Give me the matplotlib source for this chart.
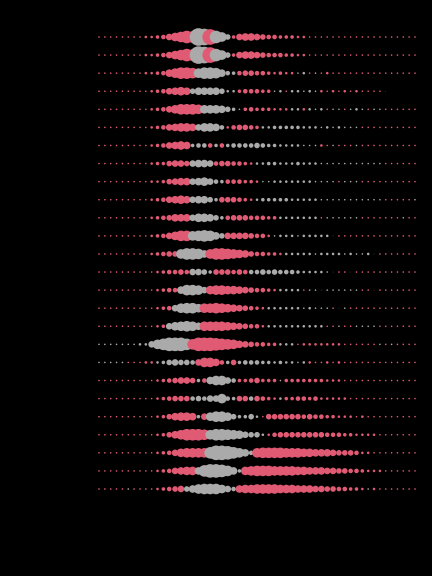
import sys
import matplotlib.pyplot as plt

# one string per row, one letter per dot (55 dots per row, left to right)
# lowercase = pink, uppercase = grey, place in alphabet = dot diameter (px)
# '.' = no dot
rows = [
    "bbbbbbbb" "ccdegikml" "RQpMJF" "dghhgfeedddcc" "bbbbbbbbbbbbbbbbbbb",
    "bbbbbbbb" "ccdegikml" "RQpMJF" "dghhgfeeeddcc" "bbbbbbbbbbbbbbbbbbb",
    "bbbbbbbb" "ccde" "hjllk" "JLLKHED" "effeedcdcc" "BCbBbc" "bbbbbbbbbbbbbbb",
    "bbbbbbbbbcde" "ghih" "FHHHHFCC" "deeedd" "BCbCCBCB" "cbcbcbcb" "bbba" ".....",
    "bbbbbbbbb" "cdegikkkj" "IIIHFDB" "dedddccc" "CCcCBCbBBbBCBbBB" "bbbbbb",
    "bbbbbbbbb" "cdeghiih" "GIIHE" "ceffed" "CCDDDDDCCCBCBCBBB" "bbbbbbbbbb",
    "bbbbbbbbb" "cdeghih" "DEEeDeD" "EEEEFEDDCCCCBBB" "cbBbbbB" "bbbbbbbbbb",
    "bbbbbbbbb" "cddfggf" "GHHG" "effeedc" "CCDDCCCDCCCBBBBBBBBBBB" "bbbbbb",
    "bbbbbbbbb" "ccdfghh" "GHIGED" "eeeddc" "BBCCCCCCCBBBBbBBB" "bbbbbbbbbb",
    "bbbbbbbbb" "cdeghih" "GHHF" "Dfffedc" "CDDDDDCCCCCBBBBBBBBBBB" "bbbbbB",
    "bbbbbbbbb" "cdefhhh" "GIIHFD" "efffeeedd" "CCCCCCC" "bBBBBBB" "bbbbbbbBbb",
    "bbbbbbbbb" "cdegikk" "JKLKHF" "ggggfeec" "BCCCBCCCCCA" "bbbbbbbbbbbbbb",
    "bbbbbbbbb" "cdeff" "JLLKH" "jllkjihfeeddc" "CCCCCBCCCCBCBBCA" "bbbbbbb",
    "bbbbbbbbbb" "cdeefe" "GGFD" "fffefe" "E" "EFEFEEEDCCCCBA" "bbA" "bbbbbbbbbbb",
    "bbbbbbbbbb" "cdee" "HKKJG" "ijjiihgfeedc" "CCCCbBBABBBBBB" "bba" "bbbbbbb",
    "bbbbbbbbbb" "cde" "GJKKI" "jjkjihgfedc" "CCCCCCBCBBBbAB" "bbbbbbbbbbbb",
    "bbbbbbbbbb" "cd" "GIJKJH" "jjjjihgfeec" "CCCCCCCCCC" "bbBbbBBBB" "bbbbbbb",
    "BBBBBBBCC" "GJLNNNL" "knnnmlkjhgfeedd" "CCC" "bcccccccbbbbbbBbB" "bbbb",
    "BBBBB" "bbbcc" "CDFGFFE" "gjjhe" "D" "f" "DEEEDDCDCCBC" "cbbcbc" "bbbbbbbbbbbbb",
    "bbbbbbbbbb" "cdefggf" "DeHJJGE" "ddefddd" "B" "dddddddccc" "bbbbbbbbbbbbb",
    "bbbbbbbbbb" "cdefff" "EFEGGJED" "ff" "E" "fedc" "C" "ddeedeccccc" "bbbbbbbbbbbb",
    "bbbbbbbbbb" "cdfhiih" "DgIKKIF" "DDF" "Cb" "ffffffefeeddcccbcb" "bbbbbbbb",
    "bbbbbbbbbb" "cdfhjlllk" "JLLKJIGFFC" "ceffffffffeeeddcccc" "bbbbbbb",
    "bbbbbbbbbb" "cdegijjjj" "LOONLJHE" "jkkkkjjjiihhhgfffecc" "bbbbbbbb",
    "bbbbbbbbbb" "cdeghii" "HLNNMKHD" "ijkkkjjjjiihhhggffeedccc" "bbbbbb",
    "bbbbbBbbbb" "cdefg" "FHJKKKIGE" "hiijjjjiiihhhggffeeddc" "Bcb" "bbbbbb",
]
pink = '#e15a74'
grey = '#aaaaaa'

for n, row in enumerate(rows):
    if len(row) != 55:
        print('row', n, 'has', len(row), file=sys.stderr)

fig = plt.figure(figsize=(6, 8), dpi=72, facecolor='black')
ax = fig.add_axes([99 / 432, 87 / 576, 316 / 432, 452 / 576])
ax.set_facecolor('black')

for r, row in enumerate(rows):
    xs, sizes, cols = [], [], []
    for i, ch in enumerate(row):
        if ch == '.':
            continue
        d = ord(ch.lower()) - ord('a') + 1
        xs.append(i)
        sizes.append((d - 0.4) ** 2)
        cols.append(pink if ch.islower() else grey)
    ax.scatter(xs, [r] * len(xs), s=sizes, c=cols, linewidths=0, clip_on=False)

ax.set_xlim(0, 54)
ax.set_ylim(len(rows) - 1, 0)
ax.axis('off')
fig.savefig('out.png', dpi=72, facecolor='black')
